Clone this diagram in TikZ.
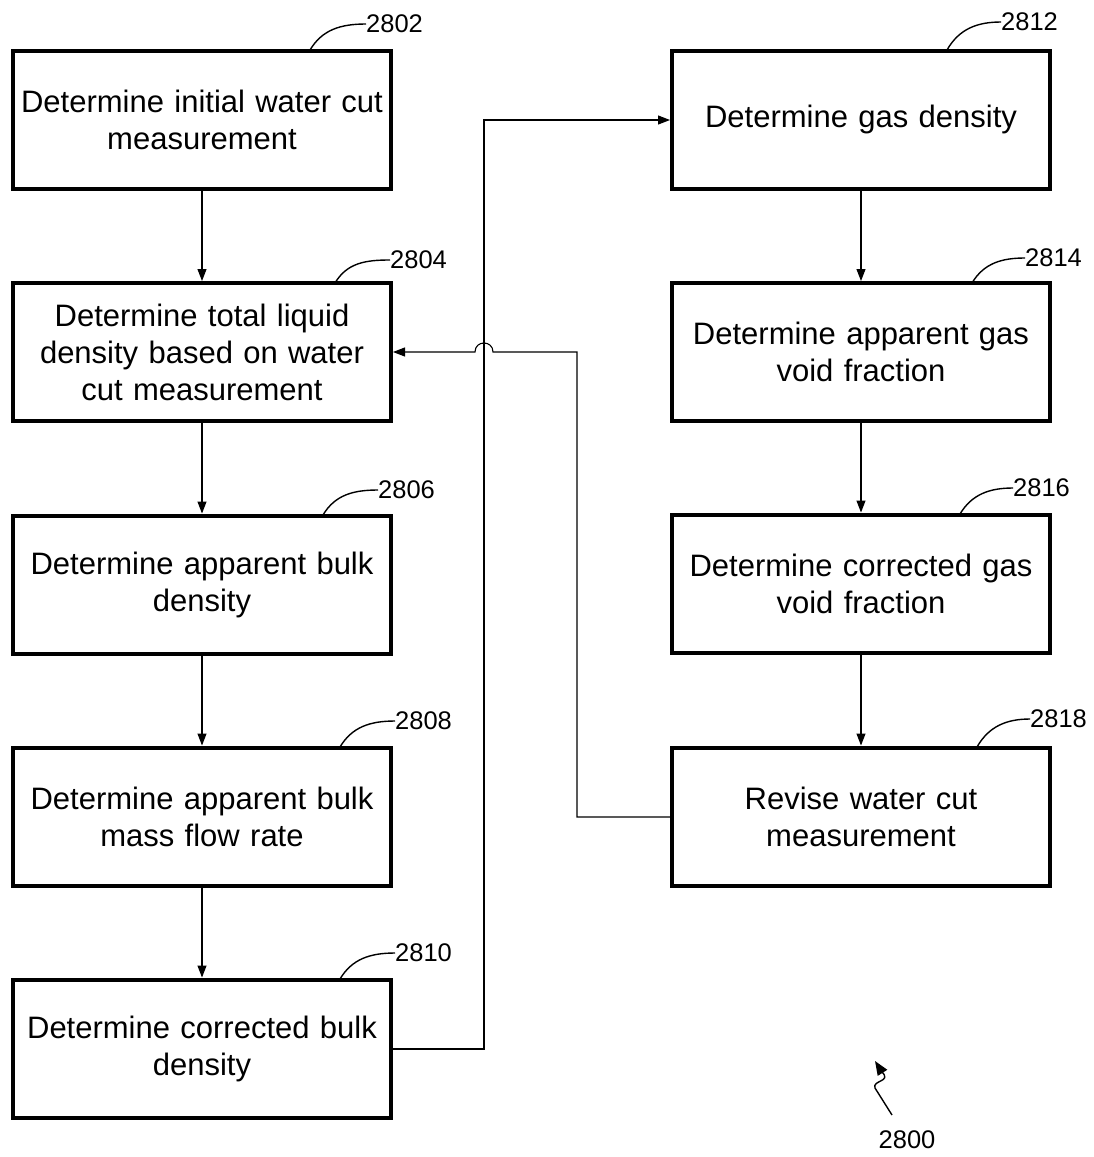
\documentclass[tikz,border=0pt]{standalone}
\usepackage{fontspec}
\setmainfont{Liberation Sans}
\usetikzlibrary{arrows.meta}
\tikzset{
  stepbox/.style={draw, line width=4pt, minimum width=378pt, minimum height=138pt, text width=372pt, align=center, inner sep=0pt, font=\fontsize{31}{37}\selectfont},
  flow/.style={line width=1.1pt, -{Triangle[length=12pt,width=9pt]}},
  lbl/.style={anchor=west, inner sep=0pt, font=\fontsize{25.5}{28}\selectfont},
  lead/.style={line width=1.4pt}
}
\begin{document}
\begin{tikzpicture}[x=1pt,y=-1pt]
\useasboundingbox[fill=white] (0,0) rectangle (1093,1157);
\node[stepbox] (b2802) at (202,120) {Determine initial water cut\\measurement};
\node[stepbox] (b2804) at (202,352) {Determine total liquid\\density based on water\\cut measurement};
\node[stepbox] (b2806) at (202,584.5) {Determine apparent bulk\\density};
\node[stepbox] (b2808) at (202,816.5) {Determine apparent bulk\\mass flow rate};
\node[stepbox] (b2810) at (202,1048.5) {Determine corrected bulk\\density};
\node[stepbox] (b2812) at (861,119.5) {Determine gas density};
\node[stepbox] (b2814) at (861,352) {Determine apparent gas\\void fraction};
\node[stepbox] (b2816) at (861,583.5) {Determine corrected gas\\void fraction};
\node[stepbox] (b2818) at (861,816.5) {Revise water cut\\measurement};

\draw[flow] (b2802) -- (b2804);
\draw[flow] (b2804) -- (b2806);
\draw[flow] (b2806) -- (b2808);
\draw[flow] (b2808) -- (b2810);
\draw[flow] (b2812) -- (b2814);
\draw[flow] (b2814) -- (b2816);
\draw[flow] (b2816) -- (b2818);

\coordinate (c1) at (484,1049);
\coordinate (c2) at (484,120);
\draw[flow] (b2810.east |- c1) -- (c1) -- (c2) -- (b2812.west |- c2);

\coordinate (d1) at (577,817);
\coordinate (d2) at (577,352);
\coordinate (h1) at (493,352);
\coordinate (h2) at (475,352);
\draw[flow] (b2818.west |- d1) -- (d1) -- (d2) -- (h1) .. controls (493,340) and (475,340) .. (h2) -- (b2804.east);

% reference labels
\node[lbl] (l2802) at (366,24) {2802};
\draw[lead] (310,50) .. controls (322,30) and (340,24) .. (l2802.west);
\node[lbl] (l2804) at (390,260) {2804};
\draw[lead] (335,283) .. controls (347,263) and (365,260) .. (l2804.west);
\node[lbl] (l2806) at (378,490) {2806};
\draw[lead] (323,515) .. controls (335,495) and (353,490) .. (l2806.west);
\node[lbl] (l2808) at (395,721) {2808};
\draw[lead] (340,747) .. controls (352,727) and (370,721) .. (l2808.west);
\node[lbl] (l2810) at (395,953) {2810};
\draw[lead] (340,979) .. controls (352,959) and (370,953) .. (l2810.west);
\node[lbl] (l2812) at (1001,22) {2812};
\draw[lead] (947,50) .. controls (959,29) and (977,22) .. (l2812.west);
\node[lbl] (l2814) at (1025,258) {2814};
\draw[lead] (972,283) .. controls (984,263) and (1002,258) .. (l2814.west);
\node[lbl] (l2816) at (1013,488) {2816};
\draw[lead] (960,514) .. controls (972,494) and (990,488) .. (l2816.west);
\node[lbl] (l2818) at (1030,719) {2818};
\draw[lead] (977,747) .. controls (989,726) and (1007,719) .. (l2818.west);

\node[lbl, anchor=center] (l2800) at (907,1140) {2800};
\coordinate (s1) at (892,1115);
\coordinate (s2) at (875,1088);
\coordinate (s3) at (875,1061);
\draw[lead, -{Triangle[length=14pt,width=11pt]}] (s1) -- (s2) .. controls (872,1080) and (892,1082) .. (882,1072) -- (s3);
\end{tikzpicture}
\end{document}
